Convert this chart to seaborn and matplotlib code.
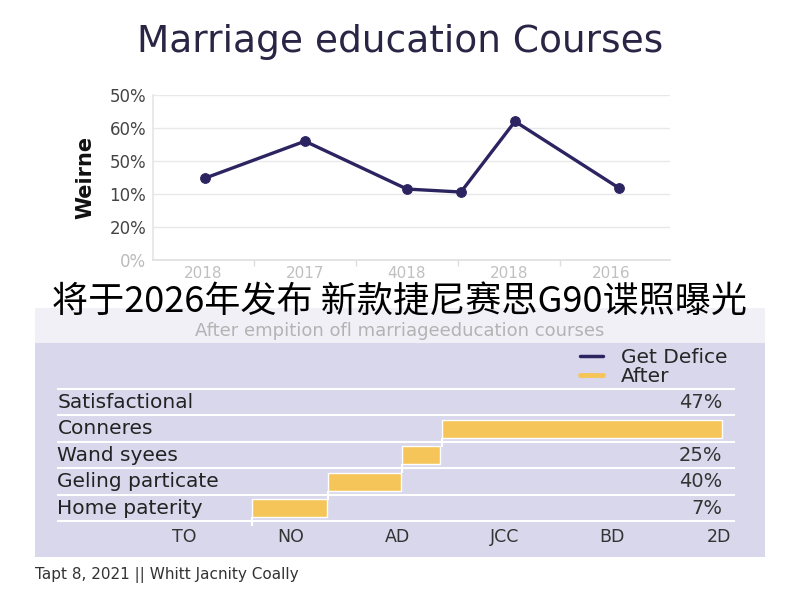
import matplotlib
matplotlib.use("Agg")
import matplotlib.pyplot as plt
import seaborn as sns
import numpy as np
import pandas as pd
from matplotlib.lines import Line2D
from matplotlib.patches import Rectangle

# ---- data ----
year_labels = ["2018", "2017", "4018", "2018", "2016"]
line_x = [0.02, 1.0, 2.0, 2.53, 3.06, 4.08]
line_y = [2.48, 3.60, 2.15, 2.06, 4.20, 2.18]
pct_labels = ["0%", "20%", "10%", "50%", "60%", "50%"]

categories = ["Satisfactional", "Conneres", "Wand syees", "Geling particate", "Home paterity"]
bar_start = [np.nan, 2.41, 2.04, 1.35, 0.64]
bar_end = [np.nan, 5.03, 2.39, 2.03, 1.34]
value_labels = ["47%", "", "25%", "40%", "7%"]
stage_labels = ["TO", "NO", "AD", "JCC", "BD", "2D"]

NAVY = "#2c2461"
YELLOW = "#f6c55a"
LAVENDER = "#d9d7eb"

sns.set_theme(style="whitegrid")
plt.rcParams['font.family'] = ['DejaVu Sans']

fig = plt.figure(figsize=(8, 6), dpi=100)
fig.patch.set_facecolor("white")

# ---- top line chart ----
ax1 = fig.add_axes([153/800, 1 - 260/600, (670 - 153)/800, 165/600])
df_line = pd.DataFrame({"x": line_x, "y": line_y})
sns.lineplot(data=df_line, x="x", y="y", ax=ax1, color=NAVY, linewidth=2.4,
             marker="o", markersize=7, markeredgecolor=NAVY)
ax1.set_xlim(-0.49, 4.58)
ax1.set_ylim(0, 5)
ax1.set_xticks(range(len(year_labels)))
ax1.set_xticklabels(year_labels, color="#c0c0c0", fontsize=11)
ax1.set_xticks([0.5, 1.5, 2.5, 3.5], minor=True)
ax1.set_yticks(range(len(pct_labels)))
ax1.set_yticklabels(pct_labels, fontsize=12, color="#444444")
ax1.get_yticklabels()[0].set_color("#bbbbbb")
ax1.grid(axis="x", visible=False)
ax1.grid(axis="y", color="#e8e8e8", linewidth=1)
ax1.tick_params(axis="x", which="minor", length=4, color="#dddddd", bottom=True)
ax1.tick_params(axis="x", which="major", length=0, pad=4)
ax1.tick_params(axis="y", length=0, pad=5)
for s in ["top", "right"]:
    ax1.spines[s].set_visible(False)
ax1.spines["left"].set_color("#e6e6e6")
ax1.spines["bottom"].set_color("#e0e0e0")
ax1.set_xlabel("")
ax1.set_ylabel("Weirne", fontsize=15, color="#111111", fontweight="bold", labelpad=10)

# ---- bottom panel ----
fig.patches.append(Rectangle((35/800, 1 - 343/600), 730/800, 35/600,
                             transform=fig.transFigure, facecolor="#f1f0f7",
                             edgecolor="none", zorder=0))
fig.text(0.5, 1 - 331/600, "After empition ofl marriageeducation courses",
         ha="center", va="center", fontsize=13, color="#b3b3b3")

ax2 = fig.add_axes([35/800, 1 - 557/600, 730/800, 214/600])
ax2.set_facecolor(LAVENDER)
ax2.set_xlim(-1.39, 5.43)
ax2.set_ylim(5.85, -2.23)
ax2.grid(False)
for s in ax2.spines.values():
    s.set_visible(False)

rows = np.arange(len(categories))
ax2.hlines(rows - 0.5, -1.18, 5.15, color="white", linewidth=1.5, zorder=1)
ax2.hlines([4.5], -1.18, 5.15, color="white", linewidth=1.5, zorder=1)
starts = np.array(bar_start)
ends = np.array(bar_end)
ax2.barh(rows, ends - starts, left=starts, height=0.68, color=YELLOW, zorder=2)
ok = ~np.isnan(starts)
ax2.vlines(starts[ok], rows[ok] + 0.34, rows[ok] + 0.68, color="white",
           linewidth=1.5, zorder=3)

for i, (cat, val) in enumerate(zip(categories, value_labels)):
    ax2.text(-1.18, i, cat, ha="left", va="center", fontsize=14.5, color="#222222")
    if val:
        ax2.text(5.03, i, val, ha="right", va="center", fontsize=14, color="#333333")

ax2.set_yticks([])
ax2.set_xticks(range(len(stage_labels)))
ax2.set_xticklabels(stage_labels, fontsize=12.5, color="#333333")
ax2.tick_params(axis="x", length=0, pad=-21)

handles = [Line2D([0], [0], color=NAVY, lw=2.5), Line2D([0], [0], color=YELLOW, lw=3.5)]
ax2.legend(handles, ["Get Defice", "After"], loc="upper right",
           bbox_to_anchor=(0.96, 1.015), frameon=False, fontsize=14.5,
           handlelength=1.15, labelspacing=0.0, borderaxespad=0, handletextpad=0.9)

# ---- figure texts ----
fig.text(0.5, 1 - 42/600, "Marriage education Courses", ha="center", va="center",
         fontsize=27, color="#2a2545")
fig.text(35/800, 1 - 575/600, "Tapt 8, 2021 || Whitt Jacnity Coally", ha="left",
         va="center", fontsize=11, color="#333333")
fig.text(0.5, 1 - 302/600, "将于2026年发布 新款捷尼赛思G90谍照曝光", ha="center",
         va="center", fontsize=26, color="black",
         family=["Noto Sans CJK SC", "DejaVu Sans"], zorder=10)

fig.savefig("out.png", dpi=100)
